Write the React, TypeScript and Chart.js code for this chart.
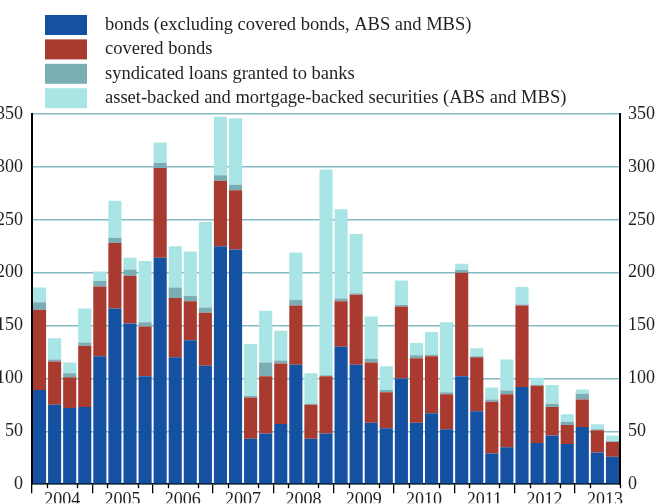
import React, { useEffect, useRef } from 'react';
import { Chart, registerables } from 'chart.js';

Chart.register(...registerables);

const years = ['2004', '2005', '2006', '2007', '2008', '2009', '2010', '2011', '2012', '2013'];

const quarters = [
  '2004 Q1', '2004 Q2', '2004 Q3', '2004 Q4',
  '2005 Q1', '2005 Q2', '2005 Q3', '2005 Q4',
  '2006 Q1', '2006 Q2', '2006 Q3', '2006 Q4',
  '2007 Q1', '2007 Q2', '2007 Q3', '2007 Q4',
  '2008 Q1', '2008 Q2', '2008 Q3', '2008 Q4',
  '2009 Q1', '2009 Q2', '2009 Q3', '2009 Q4',
  '2010 Q1', '2010 Q2', '2010 Q3', '2010 Q4',
  '2011 Q1', '2011 Q2', '2011 Q3', '2011 Q4',
  '2012 Q1', '2012 Q2', '2012 Q3', '2012 Q4',
  '2013 Q1', '2013 Q2', '2013 Q3',
];

const bonds = [
  89, 75, 72, 73,
  121, 166, 152, 102,
  214, 120, 136, 112,
  225, 222, 43, 48,
  57, 113, 43, 48,
  130, 113, 58, 53,
  100, 58, 67, 52,
  102, 69, 29, 35,
  92, 39, 46, 38,
  54, 30, 26,
];

const coveredBonds = [
  76, 41, 29, 58,
  66, 62, 45, 47,
  85, 56, 37, 50,
  62, 56, 39, 54,
  57, 56, 32, 54,
  43, 66, 57, 34,
  68, 61, 54, 33,
  98, 51, 49, 50,
  77, 54, 27, 18,
  26, 21, 14,
];

const syndicatedLoans = [
  7, 2, 4, 3,
  5, 5, 6, 4,
  5, 10, 5, 5,
  5, 5, 1.5, 13,
  3, 5.5, 1, 1,
  2.5, 1.5, 3.5, 2,
  1.5, 3, 1.5, 2,
  2.5, 1, 2, 3.5,
  1, 1, 3, 3,
  5.5, 1, 0.5,
];

const absMbs = [
  14, 20, 10, 32,
  9, 35, 11, 58,
  19, 39, 42, 81,
  55.5, 63, 49, 49,
  28, 44.5, 29, 194.5,
  84.5, 56, 40, 22.6,
  23, 11.6, 21.4, 66,
  6, 7.6, 11.4, 29.5,
  16.5, 6.6, 17.7, 7.2,
  4.1, 4.6, 5.6,
];

const seriesLabels = [
  'bonds (excluding covered bonds, ABS and MBS)',
  'covered bonds',
  'syndicated loans granted to banks',
  'asset-backed and mortgage-backed securities (ABS and MBS)',
];

const seriesColors = ['#1551a1', '#a83a2f', '#7aaeb4', '#aae5e5'];

const yMin = 0;
const yMax = 350;
const yStep = 50;

const FONT = '"Liberation Serif", "Times New Roman", serif';
const TEXT = '#231f20';
const GRID = '#86bcc3';

const isLabelBoundary = (k: number) => (k - 2) % 4 === 0;
const isYearBoundary = (k: number) => k % 4 === 0;

const legendPlugin = {
  id: 'customLegend',
  afterDraw(chart: any) {
    const ctx = chart.ctx;
    ctx.save();
    ctx.font = `18.5px ${FONT}`;
    ctx.textBaseline = 'middle';
    ctx.textAlign = 'left';
    chart.data.datasets.forEach((ds: any, i: number) => {
      const top = 15 + i * 24.4;
      ctx.fillStyle = ds.backgroundColor;
      ctx.fillRect(45, top, 42, 20);
      ctx.fillStyle = TEXT;
      ctx.fillText(ds.label, 105, top + 10);
    });
    ctx.restore();
  },
};

const shortTicksPlugin = {
  id: 'shortTicks',
  afterDraw(chart: any) {
    const scale = chart.scales.xYear;
    if (!scale) return;
    const ctx = chart.ctx;
    ctx.save();
    ctx.strokeStyle = '#000';
    ctx.lineWidth = 1.3;
    for (let k = 1; k <= quarters.length; k++) {
      if (isLabelBoundary(k) || isYearBoundary(k)) continue;
      const x = Math.round(scale.getPixelForValue(k - 0.5)) + 0.5;
      ctx.beginPath();
      ctx.moveTo(x, scale.top);
      ctx.lineTo(x, scale.top + 4);
      ctx.stroke();
    }
    ctx.restore();
  },
};

export default function App() {
  const ref = useRef<HTMLCanvasElement | null>(null);

  useEffect(() => {
    if (!ref.current) return;
    const series = [bonds, coveredBonds, syndicatedLoans, absMbs];
    const chart = new Chart(ref.current, {
      type: 'bar',
      data: {
        labels: quarters,
        datasets: series.map((d, i) => ({
          label: seriesLabels[i],
          data: d,
          backgroundColor: seriesColors[i],
          borderWidth: 0,
          barPercentage: 0.87,
          categoryPercentage: 1,
          xAxisID: 'x',
          yAxisID: 'y',
        })),
      },
      options: {
        responsive: false,
        animation: false,
        layout: { padding: { top: 114, left: 0, right: 0, bottom: 0 } },
        plugins: {
          legend: { display: false },
          tooltip: { enabled: false },
        },
        scales: {
          x: {
            type: 'category',
            stacked: true,
            display: false,
            offset: true,
            grid: { display: false },
          },
          xYear: {
            type: 'linear',
            position: 'bottom',
            bounds: 'data',
            offset: false,
            min: -0.5,
            max: quarters.length - 0.5,
            afterBuildTicks: (scale: any) => {
              const t = [];
              for (let k = 0; k <= quarters.length; k++) t.push({ value: k - 0.5 });
              scale.ticks = t;
            },
            afterDataLimits: (scale: any) => {
              scale.min = -0.5;
              scale.max = quarters.length - 0.5;
            },
            afterFit: (scale: any) => {
              scale.height = 19;
            },
            ticks: {
              autoSkip: false,
              maxRotation: 0,
              minRotation: 0,
              padding: -4,
              color: TEXT,
              font: { family: FONT, size: 18 },
              callback: (_v: any, index: number) =>
                isLabelBoundary(index) ? years[(index - 2) / 4] : '',
            },
            grid: {
              offset: false,
              drawOnChartArea: false,
              drawTicks: true,
              tickLength: 9,
              lineWidth: 1.3,
              color: (c: any) => (isYearBoundary(c.index) ? '#000' : 'rgba(0,0,0,0)'),
            },
            border: { display: true, color: '#000', width: 1.5 },
          },
          y: {
            type: 'linear',
            position: 'left',
            stacked: true,
            min: yMin,
            max: yMax,
            afterFit: (scale: any) => {
              scale.width = 32;
            },
            ticks: {
              stepSize: yStep,
              padding: 9,
              color: TEXT,
              font: { family: FONT, size: 18 },
            },
            grid: {
              color: GRID,
              lineWidth: 1.5,
              drawTicks: false,
            },
            border: { display: true, color: '#000', width: 2 },
          },
          y2: {
            type: 'linear',
            position: 'right',
            min: yMin,
            max: yMax,
            afterFit: (scale: any) => {
              scale.width = 38;
            },
            ticks: {
              stepSize: yStep,
              padding: 8,
              color: TEXT,
              font: { family: FONT, size: 18 },
            },
            grid: { display: false, drawTicks: false },
            border: { display: true, color: '#000', width: 2 },
          },
        },
      } as any,
      plugins: [legendPlugin, shortTicksPlugin],
    });
    return () => chart.destroy();
  }, []);

  return (
    <div style={{ position: 'absolute', left: 0, top: 0, width: 658, height: 504, background: '#fff' }}>
      <canvas ref={ref} width={658} height={504} style={{ display: 'block' }} />
    </div>
  );
}
